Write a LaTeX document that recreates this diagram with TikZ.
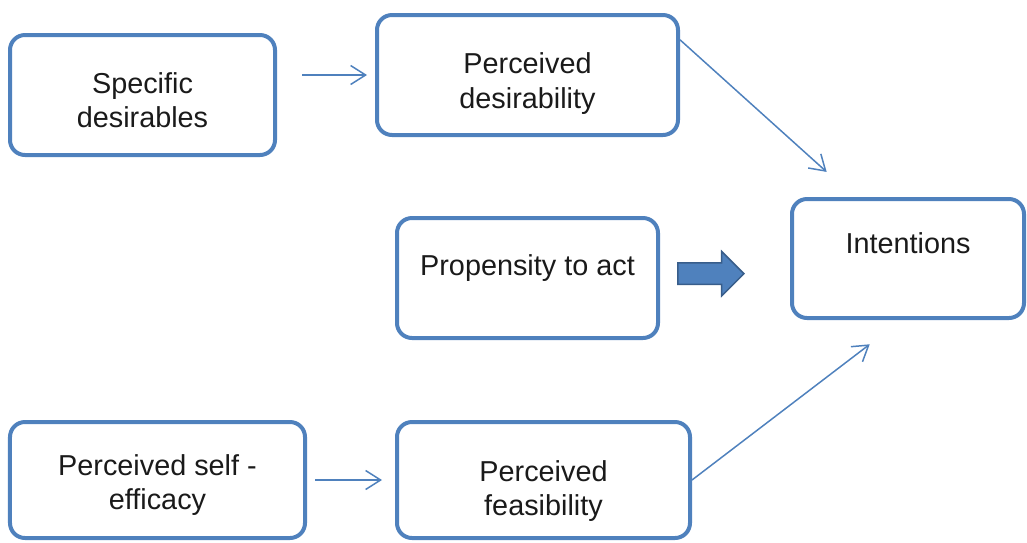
\documentclass[tikz,border=0pt]{standalone}
\usepackage{fontspec}
\setmainfont{Liberation Sans}
\usepackage{xcolor}
\usetikzlibrary{calc,arrows.meta,shapes.arrows}
\definecolor{box_blue}{HTML}{4F81BD}
\definecolor{dark_blue}{HTML}{385D8A}
\definecolor{text_black}{HTML}{1A1A1A}

\tikzset{
  block/.style={draw=box_blue, line width=0.08cm, rounded corners=0.3cm,
    align=center, text=text_black, font=\fontsize{16.4}{19.4}\selectfont},
  link/.style={draw=box_blue, line width=0.03cm,
    -{Straight Barb[length=0.3cm, width=0.38cm]}}
}

\begin{document}
\begin{tikzpicture}
  \useasboundingbox (0,0) rectangle (20.54,-10.84);

  % Boxes
  \node[block, minimum width=5.30cm, minimum height=2.40cm, text height=1.3cm] (spec) at (2.85,-1.9) {Specific\\desirables};
  \node[block, minimum width=6.02cm, minimum height=2.40cm, text height=1.44cm] (desir) at (10.55,-1.5) {Perceived\\desirability};
  \node[block, minimum width=5.22cm, minimum height=2.40cm, text depth=0.52cm] (prop) at (10.55,-5.56) {Propensity to act};
  \node[block, minimum width=4.64cm, minimum height=2.38cm, text depth=0.6cm] (intent) at (18.16,-5.17) {Intentions};
  \node[block, minimum width=5.90cm, minimum height=2.32cm, text height=1.3cm] (self) at (3.15,-9.6) {Perceived self -\\efficacy};
  \node[block, minimum width=5.86cm, minimum height=2.32cm, text height=1.54cm] (feas) at (10.87,-9.6) {Perceived\\feasibility};

  % Thin arrows
  \draw[link, shorten <=0.5cm, shorten >=0.16cm] (spec.east |- desir.west) -- (desir.west);
  \draw[link, shorten <=0.16cm, shorten >=0.26cm] (self.east) -- (feas.west);
  \draw[link, shorten >=0.75cm] (desir.13) -- (intent.131);
  \draw[link, shorten >=0.8cm] (feas.east) -- (intent.264);

  % Block arrow
  \node[single arrow, draw=dark_blue, fill=box_blue, line width=0.03cm,
    minimum height=1.32cm, inner xsep=0pt, inner ysep=0.2cm,
    single arrow head extend=0.23cm] (push) at ($(prop.east)!0.35!(intent.west)+(0,-0.05)$) {};
\end{tikzpicture}
\end{document}
